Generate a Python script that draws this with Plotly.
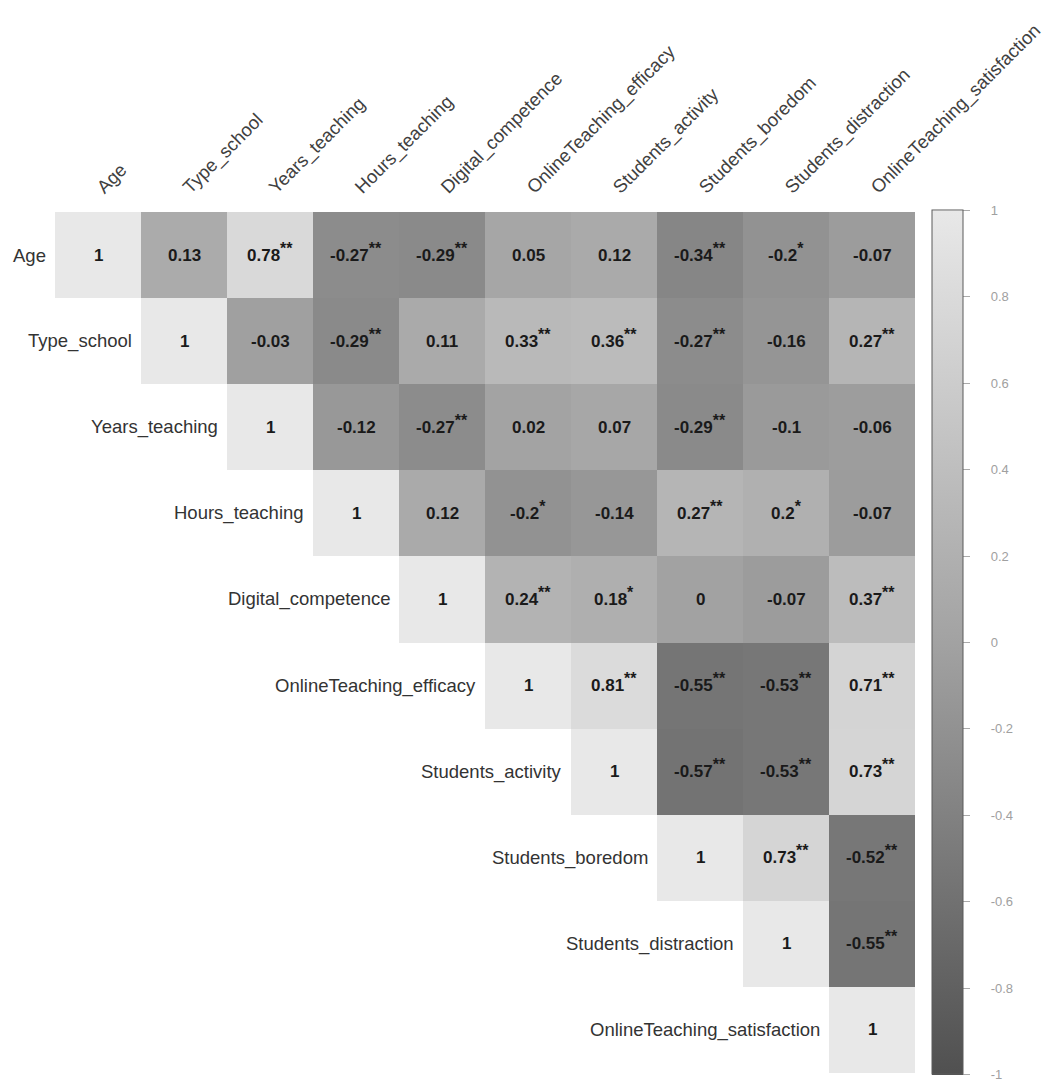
import plotly.graph_objects as go

# Variables in the correlation matrix (row / column order)
variables = [
    "Age", "Type_school", "Years_teaching", "Hours_teaching", "Digital_competence",
    "OnlineTeaching_efficacy", "Students_activity", "Students_boredom",
    "Students_distraction", "OnlineTeaching_satisfaction",
]

# Upper-triangle correlation coefficients, one list per row (starting at the diagonal)
r_age = [1, 0.13, 0.78, -0.27, -0.29, 0.05, 0.12, -0.34, -0.2, -0.07]
r_type_school = [1, -0.03, -0.29, 0.11, 0.33, 0.36, -0.27, -0.16, 0.27]
r_years_teaching = [1, -0.12, -0.27, 0.02, 0.07, -0.29, -0.1, -0.06]
r_hours_teaching = [1, 0.12, -0.2, -0.14, 0.27, 0.2, -0.07]
r_digital = [1, 0.24, 0.18, 0, -0.07, 0.37]
r_efficacy = [1, 0.81, -0.55, -0.53, 0.71]
r_activity = [1, -0.57, -0.53, 0.73]
r_boredom = [1, 0.73, -0.52]
r_distraction = [1, -0.55]
r_satisfaction = [1]

# Significance markers for the same cells
s_age = ["", "", "**", "**", "**", "", "", "**", "*", ""]
s_type_school = ["", "", "**", "", "**", "**", "**", "", "**"]
s_years_teaching = ["", "", "**", "", "", "**", "", ""]
s_hours_teaching = ["", "", "*", "", "**", "*", ""]
s_digital = ["", "**", "*", "", "", "**"]
s_efficacy = ["", "**", "**", "**", "**"]
s_activity = ["", "**", "**", "**"]
s_boredom = ["", "**", "**"]
s_distraction = ["", "**"]
s_satisfaction = [""]

# Colour bar ticks
cbar_ticks = [1, 0.8, 0.6, 0.4, 0.2, 0, -0.2, -0.4, -0.6, -0.8, -1]
cbar_labels = ["1", "0.8", "0.6", "0.4", "0.2", "0", "-0.2", "-0.4", "-0.6", "-0.8", "-1"]

coef_rows = [r_age, r_type_school, r_years_teaching, r_hours_teaching, r_digital,
             r_efficacy, r_activity, r_boredom, r_distraction, r_satisfaction]
star_rows = [s_age, s_type_school, s_years_teaching, s_hours_teaching, s_digital,
             s_efficacy, s_activity, s_boredom, s_distraction, s_satisfaction]

n = len(variables)
z = []
for i, row in enumerate(coef_rows):
    z.append([None] * i + list(row))

gray_scale = [[0.0, "#505050"], [0.5, "#a2a2a2"], [1.0, "#e8e8e8"]]
FONT = "Liberation Sans, Arial, sans-serif"
pad = "\u00a0" * 5

fig = go.Figure()
fig.add_trace(go.Heatmap(
    z=z,
    x=list(range(n)),
    y=list(range(n)),
    zmin=-1, zmax=1,
    colorscale=gray_scale,
    xgap=0, ygap=0,
    hoverongaps=False,
    colorbar=dict(
        x=1.0198, xanchor="left", xref="paper", xpad=0,
        y=0.5, yanchor="middle", len=1.004, lenmode="fraction", ypad=0,
        thickness=31,
        outlinewidth=1, outlinecolor="#5a5a5a",
        tickvals=cbar_ticks,
        ticktext=[pad + t for t in cbar_labels],
        ticks="outside", ticklen=7, tickcolor="#aaaaaa", tickwidth=1,
        tickfont=dict(family=FONT, size=13, color="#a0a0a0"),
    ),
))

def fmt(v):
    if v == 0:
        return "0"
    if v == 1:
        return "1"
    return f"{v:.2f}".rstrip("0").rstrip(".")

annotations = []
for i, (row, stars) in enumerate(zip(coef_rows, star_rows)):
    for k, (v, st) in enumerate(zip(row, stars)):
        j = i + k
        txt = f"<b>{fmt(v)}</b>"
        shift = 0
        if st:
            txt += f"<sup><span style='font-size:16px'><b>{st}</b></span></sup>"
            shift = 3  # keep the number on the same baseline as unstarred cells
        annotations.append(dict(
            x=j, y=i, xref="x", yref="y", text=txt, showarrow=False, yshift=shift,
            font=dict(family=FONT, size=17, color="#1a1a1a"),
        ))
    # row label placed just left of the diagonal cell
    annotations.append(dict(
        x=i - 0.5, y=i, xref="x", yref="y", text=variables[i], showarrow=False,
        xanchor="right", xshift=-7,
        font=dict(family=FONT, size=18.5, color="#333333"),
    ))

fig.update_layout(
    width=1051, height=1083,
    margin=dict(l=55, r=136, t=212, b=10, autoexpand=False),
    paper_bgcolor="white", plot_bgcolor="white",
    annotations=annotations,
    xaxis=dict(
        side="top", tickmode="array", tickvals=list(range(n)), ticktext=variables,
        tickangle=-45, showgrid=False, zeroline=False, showline=False, ticks="",
        ticklabelstandoff=10, automargin=False,
        tickfont=dict(family=FONT, size=18.5, color="#404040"),
        range=[-0.5, n - 0.5],
    ),
    yaxis=dict(
        autorange="reversed", showticklabels=False, showgrid=False, zeroline=False,
        showline=False, ticks="", automargin=False,
    ),
)

fig.write_html("out.html")
